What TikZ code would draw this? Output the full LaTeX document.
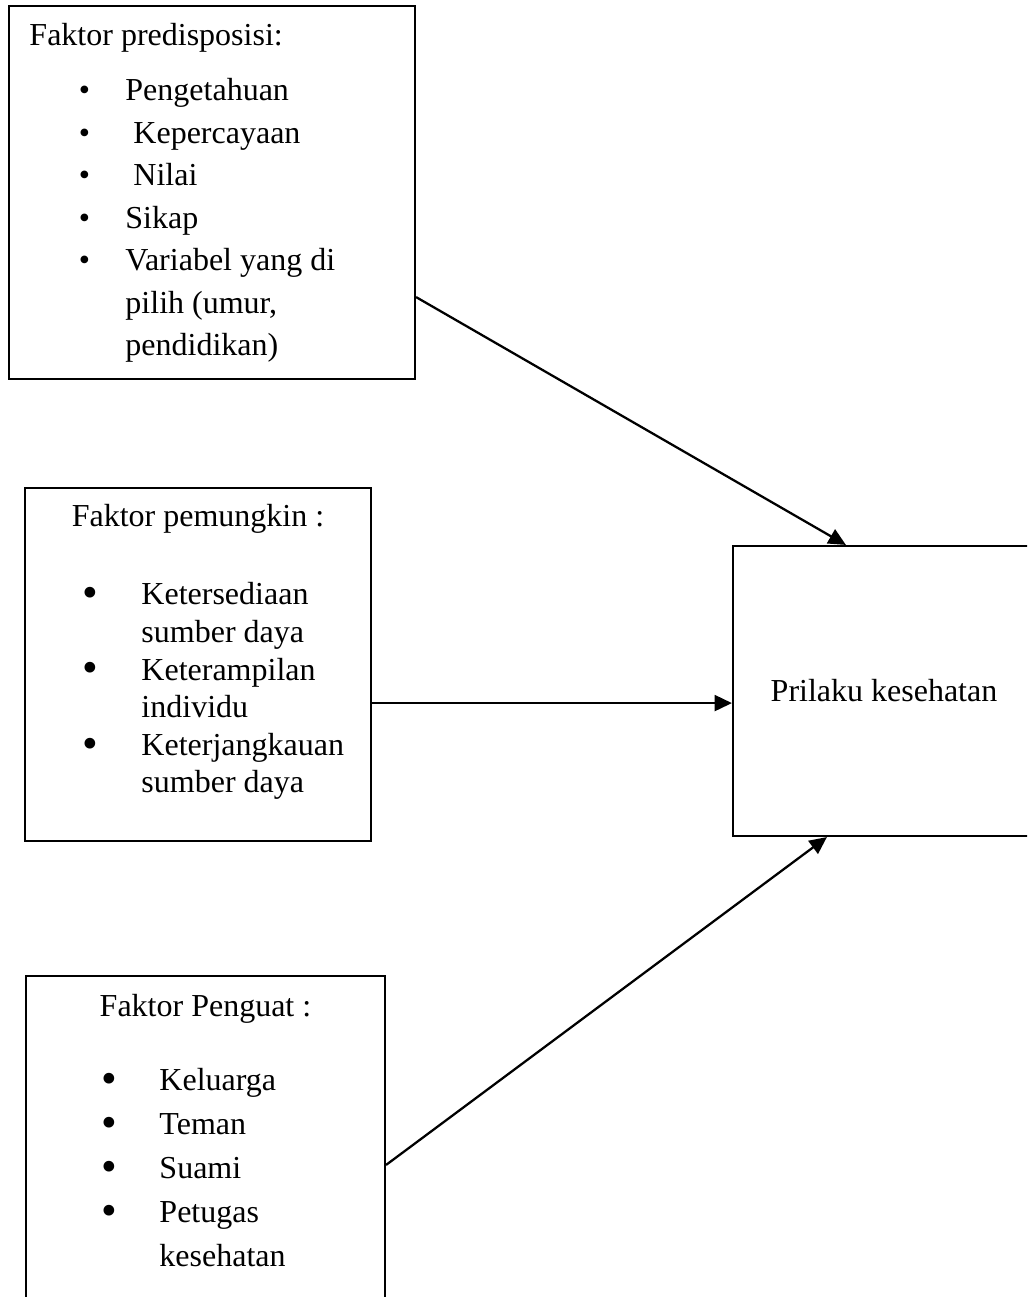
\documentclass[tikz,border=0pt]{standalone}
\usepackage{fontspec}
\setmainfont{Liberation Serif}
\usetikzlibrary{positioning,calc,arrows.meta}

\newcommand{\kecil}[1]{\makebox[#1]{\textbullet}}
\newcommand{\besar}[1]{\makebox[#1]{\raisebox{-1pt}{\scalebox{1.4}{\textbullet}}}}

\begin{document}
\begin{tikzpicture}[x=0.375pt,y=0.375pt,
	every node/.style={inner sep=0pt},
	kotak/.style={draw=black, line width=0.8pt},
	panah/.style={-{Triangle[length=6.5pt,width=6pt]}, line width=0.85pt},
	font=\fontsize{12}{14}\selectfont]
		\useasboundingbox (0,0) rectangle (1027,-1297);
		\clip (0,0) rectangle (1027,-1297);
		
		% faktor predisposisi
		\node[kotak, minimum width=152.25pt, minimum height=139.875pt] (pre) at (212,-192.5) {};
		\node[anchor=base west, shift={(21,-41)}] (preT) at (pre.north west) {Faktor predisposisi:};
		\node[anchor=base west, shift={(35,-96)}, font=\fontsize{12}{15.94}\selectfont] (preL) at (pre.north west) {\begin{tabular}[t]{@{}l@{}l@{}}
				\kecil{30.75pt} & Pengetahuan\\
				\kecil{30.75pt} & \ Kepercayaan\\
				\kecil{30.75pt} & \ Nilai\\
				\kecil{30.75pt} & Sikap\\
				\kecil{30.75pt} & Variabel yang di\\
				& pilih (umur,\\
				& pendidikan)
			\end{tabular}};
		
		% faktor pemungkin
		\node[kotak, minimum width=129.75pt, minimum height=132.375pt] (pem) at (198,-664.5) {};
		\node[anchor=base, shift={(0,-40)}] (pemT) at (pem.north) {Faktor pemungkin :};
		\node[anchor=base west, shift={(15,-118)}, font=\fontsize{12}{14.1}\selectfont] (pemL) at (pem.north west) {\begin{tabular}[t]{@{}l@{}l@{}}
				\besar{38.25pt} & Ketersediaan\\
				& sumber daya\\
				\besar{38.25pt} & Keterampilan\\
				& individu\\
				\besar{38.25pt} & Keterjangkauan\\
				& sumber daya
			\end{tabular}};
		
		% faktor penguat
		\node[kotak, minimum width=134.625pt, minimum height=129pt] (pen) at (205.5,-1148) {};
		\node[anchor=base, shift={(0,-42)}] (penT) at (pen.north) {Faktor Penguat :};
		\node[anchor=base west, shift={(34,-116)}, font=\fontsize{12}{16.5}\selectfont] (penL) at (pen.north west) {\begin{tabular}[t]{@{}l@{}l@{}}
				\besar{37.5pt} & Keluarga\\
				\besar{37.5pt} & Teman\\
				\besar{37.5pt} & Suami\\
				\besar{37.5pt} & Petugas\\
				& kesehatan
			\end{tabular}};
		
		% perilaku
		\node[kotak, minimum width=113.25pt, minimum height=108.75pt] (pk) at (884,-691) {Prilaku kesehatan};
		
		\coordinate (a1) at ($(pre.south east)+(0,83)$);
		\coordinate (a2) at ($(pem.south east)+(0,139)$);
		\coordinate (a3) at ($(pen.north east)+(0,-190)$);
		\draw[panah] (a1)--($(pk.north west)+(114,0)$);
		\draw[panah] (a2)--(a2 -| pk.west);
		\draw[panah] (a3)--($(pk.south west)+(95,0)$);
	\end{tikzpicture}
\end{document}
